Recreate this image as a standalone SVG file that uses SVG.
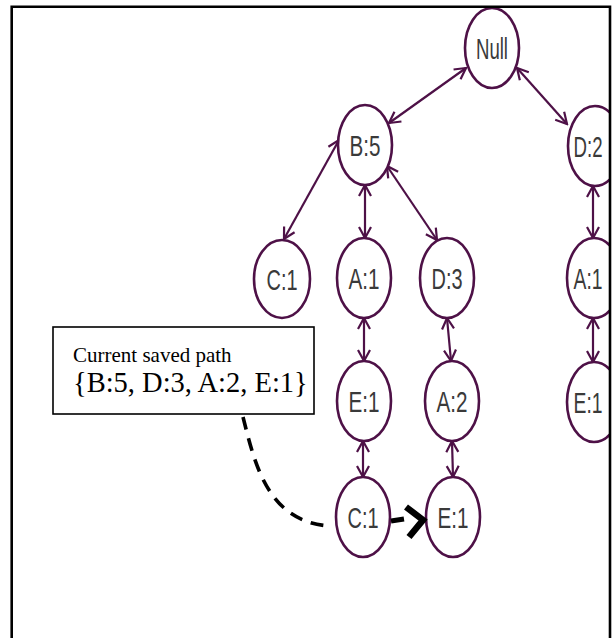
<svg xmlns="http://www.w3.org/2000/svg" width="612" height="638" viewBox="0 0 612 638">
  <style>
    .node ellipse { fill: #ffffff; stroke: #4e1147; stroke-width: 2.6; }
    .node text { font-family: "Liberation Sans", Arial, sans-serif; font-size: 29px; fill: #3a3a3a; text-anchor: middle; }
    .edge { stroke: #4e1147; stroke-width: 2.2; fill: none; marker-start: url(#head); marker-end: url(#head); }
    .note { font-family: "Liberation Serif", "Times New Roman", serif; fill: #000000; }
  </style>
  <defs>
    <marker id="head" viewBox="-14 -8 16 16" markerWidth="16" markerHeight="16" refX="0" refY="0" markerUnits="userSpaceOnUse" orient="auto-start-reverse">
      <path d="M-11,-6 L0,0 L-11,6" fill="none" stroke="#4e1147" stroke-width="2.2" stroke-linejoin="miter"/>
    </marker>
    <clipPath id="frameClip">
      <rect x="0" y="0" width="609" height="638"/>
    </clipPath>
  </defs>

  <rect x="0" y="0" width="612" height="638" fill="#ffffff"/>

  <!-- tree connectors (double-headed) -->
  <g id="connectors" clip-path="url(#frameClip)">
    <line class="edge" x1="466" y1="68" x2="389" y2="123"/>
    <line class="edge" x1="517" y1="68" x2="567" y2="124"/>
    <line class="edge" x1="339" y1="140" x2="284" y2="239"/>
    <line class="edge" x1="365" y1="185" x2="365" y2="238"/>
    <line class="edge" x1="387" y1="166" x2="437" y2="240"/>
    <line class="edge" x1="593" y1="186" x2="593" y2="238"/>
    <line class="edge" x1="364" y1="318" x2="364" y2="361"/>
    <line class="edge" x1="447" y1="318" x2="451" y2="361"/>
    <line class="edge" x1="593" y1="318" x2="593" y2="362"/>
    <line class="edge" x1="363" y1="441" x2="363" y2="477"/>
    <line class="edge" x1="452" y1="441" x2="453" y2="477"/>
  </g>

  <!-- tree nodes -->
  <g id="node-null" class="node"><ellipse cx="492" cy="48" rx="27" ry="40"/><text x="492" y="59" textLength="32" lengthAdjust="spacingAndGlyphs">Null</text></g>
  <g id="node-b5" class="node"><ellipse cx="365" cy="145" rx="27" ry="40"/><text x="365" y="156" textLength="31" lengthAdjust="spacingAndGlyphs">B:5</text></g>
  <g id="node-d2" class="node"><ellipse cx="595" cy="146" rx="27" ry="40" clip-path="url(#frameClip)"/><text x="588" y="157" textLength="29" lengthAdjust="spacingAndGlyphs">D:2</text></g>
  <g id="node-c1" class="node"><ellipse cx="282" cy="279" rx="28" ry="39"/><text x="282" y="290" textLength="31" lengthAdjust="spacingAndGlyphs">C:1</text></g>
  <g id="node-a1" class="node"><ellipse cx="364" cy="278" rx="27" ry="40"/><text x="364" y="289" textLength="31" lengthAdjust="spacingAndGlyphs">A:1</text></g>
  <g id="node-d3" class="node"><ellipse cx="447" cy="278" rx="27" ry="40"/><text x="447" y="289" textLength="31" lengthAdjust="spacingAndGlyphs">D:3</text></g>
  <g id="node-a1-right" class="node"><ellipse cx="594" cy="278" rx="27" ry="40" clip-path="url(#frameClip)"/><text x="588" y="289" textLength="29" lengthAdjust="spacingAndGlyphs">A:1</text></g>
  <g id="node-e1" class="node"><ellipse cx="364" cy="401" rx="27" ry="40"/><text x="364" y="412" textLength="31" lengthAdjust="spacingAndGlyphs">E:1</text></g>
  <g id="node-a2" class="node"><ellipse cx="452" cy="401" rx="27" ry="40"/><text x="452" y="412" textLength="31" lengthAdjust="spacingAndGlyphs">A:2</text></g>
  <g id="node-e1-right" class="node"><ellipse cx="594" cy="402" rx="27" ry="40" clip-path="url(#frameClip)"/><text x="588" y="413" textLength="29" lengthAdjust="spacingAndGlyphs">E:1</text></g>
  <g id="node-c1-bottom" class="node"><ellipse cx="363" cy="517" rx="27" ry="40"/><text x="363" y="528" textLength="31" lengthAdjust="spacingAndGlyphs">C:1</text></g>
  <g id="node-e1-bottom" class="node"><ellipse cx="453" cy="517" rx="27" ry="40"/><text x="453" y="528" textLength="31" lengthAdjust="spacingAndGlyphs">E:1</text></g>

  <!-- saved path note -->
  <g id="note">
    <rect x="53" y="327" width="261" height="87" fill="#ffffff" stroke="#000000" stroke-width="1.6"/>
    <text class="note" x="73" y="362" font-size="21">Current saved path</text>
    <text class="note" x="73" y="392" font-size="28.5">{B:5, D:3, A:2, E:1}</text>
  </g>

  <!-- pointer from the note to the current step -->
  <g id="pointer">
    <path d="M243,417 C255,465 268,522 330,526" fill="none" stroke="#000000" stroke-width="3.6" stroke-dasharray="13 9"/>
    <path d="M391,521 L404,519" fill="none" stroke="#000000" stroke-width="5"/>
    <path d="M406,507 L423,520 L409,537" fill="none" stroke="#000000" stroke-width="6.5" stroke-linejoin="miter"/>
  </g>

  <!-- page frame -->
  <path d="M11.7,638 V6.7 H610 V638" fill="none" stroke="#000000" stroke-width="2.6"/>
</svg>
